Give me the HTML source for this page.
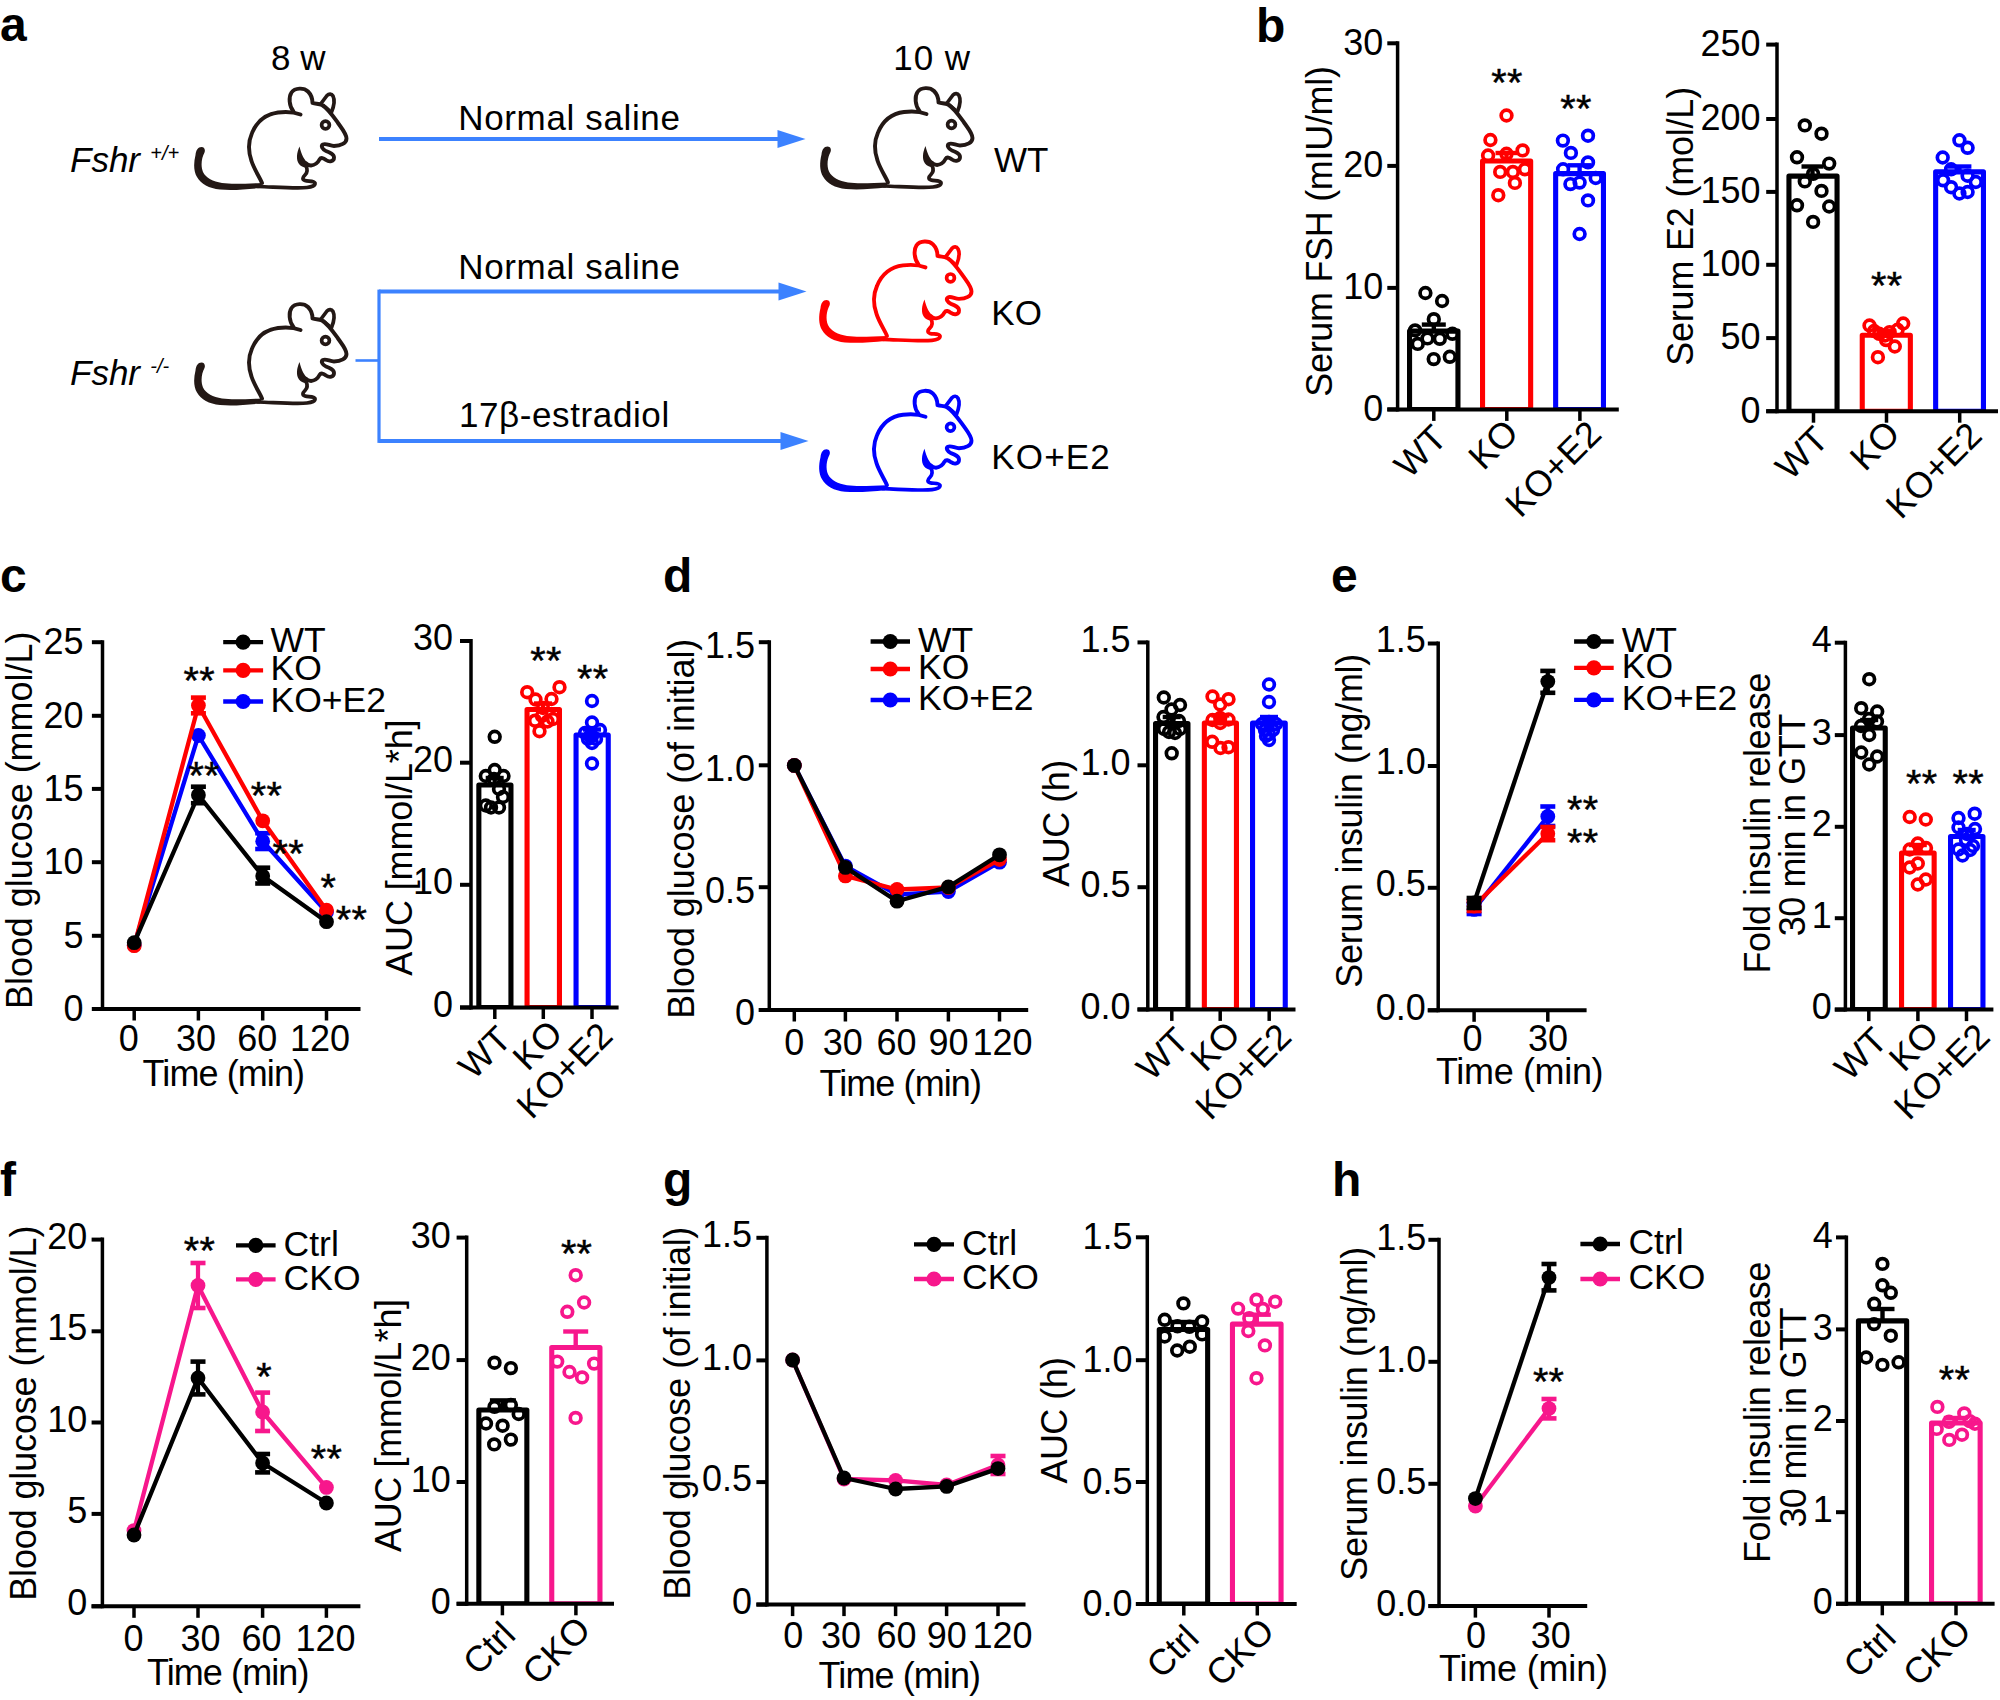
<!DOCTYPE html>
<html lang="en"><head><meta charset="utf-8"><title>Figure</title>
<style>
html,body{margin:0;padding:0;background:#fff;}
svg{display:block;font-family:"Liberation Sans",sans-serif;}
</style></head>
<body>
<svg width="2000" height="1700" viewBox="0 0 2000 1700">
<rect width="2000" height="1700" fill="#fff"/>
<path d="M1409.55,409.4 V331.15 H1457.95 V409.4" fill="none" stroke="#000" stroke-width="5.1" stroke-linejoin="round"/>
<line x1="1409.55" y1="408.2" x2="1457.95" y2="408.2" stroke="#000" stroke-width="2.6"/>
<path d="M1482.55,409.4 V160.95 H1530.65 V409.4" fill="none" stroke="#ff0000" stroke-width="5.1" stroke-linejoin="round"/>
<line x1="1482.55" y1="408.2" x2="1530.65" y2="408.2" stroke="#ff0000" stroke-width="2.6"/>
<path d="M1555.65,409.4 V173.65 H1603.45 V409.4" fill="none" stroke="#0000ff" stroke-width="5.1" stroke-linejoin="round"/>
<line x1="1555.65" y1="408.2" x2="1603.45" y2="408.2" stroke="#0000ff" stroke-width="2.6"/>
<path d="M1788.95,411.2 V176.15 H1837.05 V411.2" fill="none" stroke="#000" stroke-width="5.1" stroke-linejoin="round"/>
<line x1="1788.95" y1="410" x2="1837.05" y2="410" stroke="#000" stroke-width="2.6"/>
<path d="M1862.25,411.2 V335.25 H1910.35 V411.2" fill="none" stroke="#ff0000" stroke-width="5.1" stroke-linejoin="round"/>
<line x1="1862.25" y1="410" x2="1910.35" y2="410" stroke="#ff0000" stroke-width="2.6"/>
<path d="M1935.65,411.2 V171.85 H1983.45 V411.2" fill="none" stroke="#0000ff" stroke-width="5.1" stroke-linejoin="round"/>
<line x1="1935.65" y1="410" x2="1983.45" y2="410" stroke="#0000ff" stroke-width="2.6"/>
<path d="M478.85,1007.5 V785.05 H510.95 V1007.5" fill="none" stroke="#000" stroke-width="5.1" stroke-linejoin="round"/>
<line x1="478.85" y1="1006.3" x2="510.95" y2="1006.3" stroke="#000" stroke-width="2.6"/>
<path d="M527.05,1007.5 V709.55 H559.45 V1007.5" fill="none" stroke="#ff0000" stroke-width="5.1" stroke-linejoin="round"/>
<line x1="527.05" y1="1006.3" x2="559.45" y2="1006.3" stroke="#ff0000" stroke-width="2.6"/>
<path d="M576.05,1007.5 V735.05 H608.25 V1007.5" fill="none" stroke="#0000ff" stroke-width="5.1" stroke-linejoin="round"/>
<line x1="576.05" y1="1006.3" x2="608.25" y2="1006.3" stroke="#0000ff" stroke-width="2.6"/>
<path d="M1155.55,1009.4 V723.55 H1187.95 V1009.4" fill="none" stroke="#000" stroke-width="5.1" stroke-linejoin="round"/>
<line x1="1155.55" y1="1008.2" x2="1187.95" y2="1008.2" stroke="#000" stroke-width="2.6"/>
<path d="M1204.35,1009.4 V723.05 H1236.45 V1009.4" fill="none" stroke="#ff0000" stroke-width="5.1" stroke-linejoin="round"/>
<line x1="1204.35" y1="1008.2" x2="1236.45" y2="1008.2" stroke="#ff0000" stroke-width="2.6"/>
<path d="M1252.55,1009.4 V723.05 H1285.25 V1009.4" fill="none" stroke="#0000ff" stroke-width="5.1" stroke-linejoin="round"/>
<line x1="1252.55" y1="1008.2" x2="1285.25" y2="1008.2" stroke="#0000ff" stroke-width="2.6"/>
<path d="M1852.55,1009.6 V728.05 H1885.25 V1009.6" fill="none" stroke="#000" stroke-width="5.1" stroke-linejoin="round"/>
<line x1="1852.55" y1="1008.4" x2="1885.25" y2="1008.4" stroke="#000" stroke-width="2.6"/>
<path d="M1901.55,1009.6 V853.05 H1934.15 V1009.6" fill="none" stroke="#ff0000" stroke-width="5.1" stroke-linejoin="round"/>
<line x1="1901.55" y1="1008.4" x2="1934.15" y2="1008.4" stroke="#ff0000" stroke-width="2.6"/>
<path d="M1950.55,1009.6 V836.55 H1982.95 V1009.6" fill="none" stroke="#0000ff" stroke-width="5.1" stroke-linejoin="round"/>
<line x1="1950.55" y1="1008.4" x2="1982.95" y2="1008.4" stroke="#0000ff" stroke-width="2.6"/>
<path d="M478.85,1603.8 V1410.05 H526.85 V1603.8" fill="none" stroke="#000" stroke-width="5.1" stroke-linejoin="round"/>
<line x1="478.85" y1="1602.6" x2="526.85" y2="1602.6" stroke="#000" stroke-width="2.6"/>
<path d="M551.75,1603.8 V1347.55 H599.95 V1603.8" fill="none" stroke="#f7178c" stroke-width="5.1" stroke-linejoin="round"/>
<line x1="551.75" y1="1602.6" x2="599.95" y2="1602.6" stroke="#f7178c" stroke-width="2.6"/>
<path d="M1159.25,1604 V1329.55 H1207.65 V1604" fill="none" stroke="#000" stroke-width="5.1" stroke-linejoin="round"/>
<line x1="1159.25" y1="1602.8" x2="1207.65" y2="1602.8" stroke="#000" stroke-width="2.6"/>
<path d="M1232.45,1604 V1324.15 H1281.05 V1604" fill="none" stroke="#f7178c" stroke-width="5.1" stroke-linejoin="round"/>
<line x1="1232.45" y1="1602.8" x2="1281.05" y2="1602.8" stroke="#f7178c" stroke-width="2.6"/>
<path d="M1858.45,1603.8 V1320.85 H1906.65 V1603.8" fill="none" stroke="#000" stroke-width="5.1" stroke-linejoin="round"/>
<line x1="1858.45" y1="1602.6" x2="1906.65" y2="1602.6" stroke="#000" stroke-width="2.6"/>
<path d="M1931.55,1603.8 V1423.05 H1980.15 V1603.8" fill="none" stroke="#f7178c" stroke-width="5.1" stroke-linejoin="round"/>
<line x1="1931.55" y1="1602.6" x2="1980.15" y2="1602.6" stroke="#f7178c" stroke-width="2.6"/>
<text x="0" y="41.2" font-size="48" font-weight="bold">a</text>
<text x="1256" y="41.6" font-size="48" font-weight="bold">b</text>
<text x="0" y="591.8" font-size="48" font-weight="bold">c</text>
<text x="663" y="592" font-size="48" font-weight="bold">d</text>
<text x="1331" y="592.2" font-size="48" font-weight="bold">e</text>
<text x="0" y="1195.5" font-size="48" font-weight="bold">f</text>
<text x="663" y="1196.2" font-size="48" font-weight="bold">g</text>
<text x="1332" y="1195.5" font-size="48" font-weight="bold">h</text>
<defs><g id="mouse" transform="translate(-14,-17.5)"><path d="M21.5,77 C18,77 16,80 15.5,85 C13.5,93 13.5,101 17,107 C21,114 29,118.5 40,119.5 C52,120.5 66,119.5 80,118 L82,113 C66,113.5 52,114.5 42,113 C33,111.5 26,108 23,102 C20.5,96 21.5,88 24.5,82.5 C25.5,80 24.5,77 21.5,77 Z" stroke="none"/><path d="M82,113 C80,108 74,99 71.5,91 C68,81 68,72 72,63 C77,51 86,44 98,42.5 C106,41.5 114,42 120.5,44.5" fill="none" stroke-width="3.9" stroke-linecap="round" stroke-linejoin="round"/><path d="M113.5,41.5 C109,36 108.5,27 111.5,22.5 C115,17.5 124,17.5 128,21.5 C131,24.5 132.5,29 132.5,33 C136,34 139,33.5 142,35 C148,38.5 153,46 158,53 C163,60 166.5,64 166.5,68.5 C166.5,73 161,76 154,76 C150,76 146,73 143,74.5 C140.5,76 142.5,79.5 146,81 C150,82.5 154,84 154,87.5 C154,91.5 149.5,92.5 146,90 C143.5,88 141,87 139.5,89.5 C138,92.5 136,95 131,95.5 C128,95.5 126.5,94 125.5,93" fill="none" stroke-width="3.9" stroke-linecap="round" stroke-linejoin="round"/><path d="M141,33.5 L147,25.5 C149,23.5 151.5,23.5 153,26 C155,30 154,36 151.5,42" fill="none" stroke-width="3.7" stroke-linecap="round" stroke-linejoin="round"/><path d="M143,34.5 L150,40.5" fill="none" stroke-width="2.6"/><path d="M119.5,76.5 C116.5,83 116,90 119,94 C121,96.5 124,98 127,97.5 L128,93.5 C124.5,90 121.5,85 119.5,76.5 Z" stroke="none"/><path d="M126,96 C128,100 127.5,102.5 125,105 C122.5,107.5 122,109.5 125,110.5 C128,111.5 134,110.5 135,113 C135.5,115.5 132,117 127,117.5 C115,118.5 95,117 78,116.5" fill="none" stroke-width="3.7" stroke-linecap="round" stroke-linejoin="round"/><circle cx="145.5" cy="55" r="3.9" fill="none" stroke-width="3.7"/></g></defs>
<text x="271" y="70" font-size="35">8 w</text>
<text x="893.2" y="70" font-size="35" textLength="76.9" lengthAdjust="spacing">10 w</text>
<use href="#mouse" x="194" y="87.5" fill="#231815" stroke="#231815"/>
<use href="#mouse" x="194" y="303" fill="#231815" stroke="#231815"/>
<use href="#mouse" x="820" y="87" fill="#231815" stroke="#231815"/>
<use href="#mouse" x="819" y="240.4" fill="#ff0000" stroke="#ff0000"/>
<use href="#mouse" x="819" y="389.7" fill="#0000ff" stroke="#0000ff"/>
<text x="70" y="172" font-size="35" font-style="italic">Fshr</text>
<text x="150.3" y="160.4" font-size="20" font-style="italic">+/+</text>
<text x="70" y="385" font-size="35" font-style="italic">Fshr</text>
<text x="150.3" y="373.4" font-size="20" font-style="italic">-/-</text>
<text x="458.3" y="129.5" font-size="35" textLength="221.6" lengthAdjust="spacing">Normal saline</text>
<text x="458.3" y="279.3" font-size="35" textLength="221.6" lengthAdjust="spacing">Normal saline</text>
<text x="458.9" y="427" font-size="35" textLength="210.3" lengthAdjust="spacing">17β-estradiol</text>
<text x="994" y="172.3" font-size="35">WT</text>
<text x="991.3" y="325.4" font-size="35">KO</text>
<text x="991.3" y="469.4" font-size="35" textLength="118.5" lengthAdjust="spacing">KO+E2</text>
<line x1="379" y1="139" x2="785.5" y2="139" stroke="#3c82ff" stroke-width="3.8"/>
<polygon points="805.5,139 777.5,130 777.5,148" fill="#3c82ff"/>
<line x1="379" y1="291.5" x2="786.5" y2="291.5" stroke="#3c82ff" stroke-width="3.8"/>
<polygon points="806.5,291.5 778.5,282.5 778.5,300.5" fill="#3c82ff"/>
<line x1="379" y1="441" x2="788.5" y2="441" stroke="#3c82ff" stroke-width="3.8"/>
<polygon points="808.5,441 780.5,432 780.5,450" fill="#3c82ff"/>
<line x1="379" y1="289.6" x2="379" y2="442.9" stroke="#3c82ff" stroke-width="3.2"/>
<line x1="355.5" y1="360.5" x2="379" y2="360.5" stroke="#3c82ff" stroke-width="2.6"/>
<line x1="1397.6" y1="41.3" x2="1397.6" y2="411.4" stroke="#000" stroke-width="3.5"/>
<line x1="1387.3" y1="409.4" x2="1618.8" y2="409.4" stroke="#000" stroke-width="4"/>
<line x1="1387.3" y1="43.3" x2="1397.6" y2="43.3" stroke="#000" stroke-width="4"/>
<text x="1383.3" y="54.89" font-size="36" text-anchor="end">30</text>
<line x1="1387.3" y1="165.9" x2="1397.6" y2="165.9" stroke="#000" stroke-width="4"/>
<text x="1383.3" y="177.49" font-size="36" text-anchor="end">20</text>
<line x1="1387.3" y1="287.9" x2="1397.6" y2="287.9" stroke="#000" stroke-width="4"/>
<text x="1383.3" y="299.49" font-size="36" text-anchor="end">10</text>
<line x1="1387.3" y1="409.4" x2="1397.6" y2="409.4" stroke="#000" stroke-width="4"/>
<text x="1383.3" y="420.99" font-size="36" text-anchor="end">0</text>
<line x1="1433.8" y1="409.4" x2="1433.8" y2="420.9" stroke="#000" stroke-width="3.5"/>
<line x1="1506.8" y1="409.4" x2="1506.8" y2="420.9" stroke="#000" stroke-width="3.5"/>
<line x1="1579.9" y1="409.4" x2="1579.9" y2="420.9" stroke="#000" stroke-width="3.5"/>
<text x="1332" y="231.4" font-size="36" text-anchor="middle" transform="rotate(-90 1332 231.4)" textLength="330.7" lengthAdjust="spacing">Serum FSH (mIU/ml)</text>
<line x1="1433.8" y1="324.6" x2="1433.8" y2="331" stroke="#000" stroke-width="4.4"/>
<line x1="1421.8" y1="324.6" x2="1445.8" y2="324.6" stroke="#000" stroke-width="4.4"/>
<line x1="1506.5" y1="153" x2="1506.5" y2="161" stroke="#ff0000" stroke-width="4.4"/>
<line x1="1495.5" y1="153" x2="1517.5" y2="153" stroke="#ff0000" stroke-width="4.4"/>
<line x1="1579.6" y1="165.3" x2="1579.6" y2="173.5" stroke="#0000ff" stroke-width="4.4"/>
<line x1="1567.6" y1="165.3" x2="1591.6" y2="165.3" stroke="#0000ff" stroke-width="4.4"/>
<circle cx="1425.4" cy="293" r="5.35" fill="none" stroke="#000" stroke-width="3.7"/>
<circle cx="1442.1" cy="301" r="5.35" fill="none" stroke="#000" stroke-width="3.7"/>
<circle cx="1433.8" cy="319.2" r="5.35" fill="none" stroke="#000" stroke-width="3.7"/>
<circle cx="1415.1" cy="330.4" r="5.35" fill="none" stroke="#000" stroke-width="3.7"/>
<circle cx="1452.4" cy="333.8" r="5.35" fill="none" stroke="#000" stroke-width="3.7"/>
<circle cx="1427.5" cy="338.4" r="5.35" fill="none" stroke="#000" stroke-width="3.7"/>
<circle cx="1439.8" cy="338.8" r="5.35" fill="none" stroke="#000" stroke-width="3.7"/>
<circle cx="1417.7" cy="343.9" r="5.35" fill="none" stroke="#000" stroke-width="3.7"/>
<circle cx="1433.7" cy="359.1" r="5.35" fill="none" stroke="#000" stroke-width="3.7"/>
<circle cx="1449.8" cy="356.8" r="5.35" fill="none" stroke="#000" stroke-width="3.7"/>
<circle cx="1506.5" cy="115.5" r="5.35" fill="none" stroke="#ff0000" stroke-width="3.7"/>
<circle cx="1490.4" cy="140" r="5.35" fill="none" stroke="#ff0000" stroke-width="3.7"/>
<circle cx="1522.6" cy="150.4" r="5.35" fill="none" stroke="#ff0000" stroke-width="3.7"/>
<circle cx="1506.5" cy="153.8" r="5.35" fill="none" stroke="#ff0000" stroke-width="3.7"/>
<circle cx="1488.1" cy="155.5" r="5.35" fill="none" stroke="#ff0000" stroke-width="3.7"/>
<circle cx="1500.2" cy="171.9" r="5.35" fill="none" stroke="#ff0000" stroke-width="3.7"/>
<circle cx="1512.9" cy="171.9" r="5.35" fill="none" stroke="#ff0000" stroke-width="3.7"/>
<circle cx="1524.9" cy="169.3" r="5.35" fill="none" stroke="#ff0000" stroke-width="3.7"/>
<circle cx="1514.9" cy="182.9" r="5.35" fill="none" stroke="#ff0000" stroke-width="3.7"/>
<circle cx="1498.3" cy="195.2" r="5.35" fill="none" stroke="#ff0000" stroke-width="3.7"/>
<circle cx="1588" cy="135.7" r="5.35" fill="none" stroke="#0000ff" stroke-width="3.7"/>
<circle cx="1562.9" cy="140.6" r="5.35" fill="none" stroke="#0000ff" stroke-width="3.7"/>
<circle cx="1570.9" cy="152.9" r="5.35" fill="none" stroke="#0000ff" stroke-width="3.7"/>
<circle cx="1588" cy="162.4" r="5.35" fill="none" stroke="#0000ff" stroke-width="3.7"/>
<circle cx="1563.1" cy="169.3" r="5.35" fill="none" stroke="#0000ff" stroke-width="3.7"/>
<circle cx="1595.7" cy="178" r="5.35" fill="none" stroke="#0000ff" stroke-width="3.7"/>
<circle cx="1570.4" cy="184.1" r="5.35" fill="none" stroke="#0000ff" stroke-width="3.7"/>
<circle cx="1579.6" cy="182.6" r="5.35" fill="none" stroke="#0000ff" stroke-width="3.7"/>
<circle cx="1588" cy="200.4" r="5.35" fill="none" stroke="#0000ff" stroke-width="3.7"/>
<circle cx="1579.6" cy="234" r="5.35" fill="none" stroke="#0000ff" stroke-width="3.7"/>
<text x="1448.9" y="440.1" font-size="36" text-anchor="end" transform="rotate(-45 1448.9 440.1)">WT</text>
<text x="1520.2" y="434.6" font-size="36" text-anchor="end" transform="rotate(-45 1520.2 434.6)">KO</text>
<text x="1603.3" y="436.2" font-size="36" text-anchor="end" transform="rotate(-45 1603.3 436.2)">KO+E2</text>
<text x="1507" y="95.72" font-size="39.5" text-anchor="middle" stroke="#000" stroke-width="0.5" letter-spacing="0.3">**</text>
<text x="1576" y="122.22" font-size="39.5" text-anchor="middle" stroke="#000" stroke-width="0.5" letter-spacing="0.3">**</text>
<line x1="1777" y1="42.6" x2="1777" y2="413.2" stroke="#000" stroke-width="3.5"/>
<line x1="1766.2" y1="411.2" x2="1998" y2="411.2" stroke="#000" stroke-width="4"/>
<line x1="1766.2" y1="44.6" x2="1777" y2="44.6" stroke="#000" stroke-width="4"/>
<text x="1760.5" y="55.99" font-size="36" text-anchor="end">250</text>
<line x1="1766.2" y1="119" x2="1777" y2="119" stroke="#000" stroke-width="4"/>
<text x="1760.5" y="130.39" font-size="36" text-anchor="end">200</text>
<line x1="1766.2" y1="191.9" x2="1777" y2="191.9" stroke="#000" stroke-width="4"/>
<text x="1760.5" y="203.29" font-size="36" text-anchor="end">150</text>
<line x1="1766.2" y1="264.8" x2="1777" y2="264.8" stroke="#000" stroke-width="4"/>
<text x="1760.5" y="276.19" font-size="36" text-anchor="end">100</text>
<line x1="1766.2" y1="338.1" x2="1777" y2="338.1" stroke="#000" stroke-width="4"/>
<text x="1760.5" y="349.49" font-size="36" text-anchor="end">50</text>
<line x1="1766.2" y1="411.2" x2="1777" y2="411.2" stroke="#000" stroke-width="4"/>
<text x="1760.5" y="422.59" font-size="36" text-anchor="end">0</text>
<line x1="1813.5" y1="411.2" x2="1813.5" y2="422.7" stroke="#000" stroke-width="3.5"/>
<line x1="1886.5" y1="411.2" x2="1886.5" y2="422.7" stroke="#000" stroke-width="3.5"/>
<line x1="1959.7" y1="411.2" x2="1959.7" y2="422.7" stroke="#000" stroke-width="3.5"/>
<text x="1693.5" y="226.3" font-size="36" text-anchor="middle" transform="rotate(-90 1693.5 226.3)" textLength="279" lengthAdjust="spacing">Serum E2 (mol/L)</text>
<line x1="1812.5" y1="166.5" x2="1812.5" y2="176" stroke="#000" stroke-width="4.4"/>
<line x1="1801.5" y1="166.5" x2="1823.5" y2="166.5" stroke="#000" stroke-width="4.4"/>
<line x1="1886.3" y1="331" x2="1886.3" y2="335" stroke="#ff0000" stroke-width="4.4"/>
<line x1="1876.3" y1="331" x2="1896.3" y2="331" stroke="#ff0000" stroke-width="4.4"/>
<line x1="1959.4" y1="166.5" x2="1959.4" y2="172" stroke="#0000ff" stroke-width="4.4"/>
<line x1="1947.4" y1="166.5" x2="1971.4" y2="166.5" stroke="#0000ff" stroke-width="4.4"/>
<circle cx="1804.8" cy="125.4" r="5.35" fill="none" stroke="#000" stroke-width="3.7"/>
<circle cx="1821.5" cy="133.7" r="5.35" fill="none" stroke="#000" stroke-width="3.7"/>
<circle cx="1797" cy="157.3" r="5.35" fill="none" stroke="#000" stroke-width="3.7"/>
<circle cx="1829.2" cy="163.6" r="5.35" fill="none" stroke="#000" stroke-width="3.7"/>
<circle cx="1813.1" cy="173.9" r="5.35" fill="none" stroke="#000" stroke-width="3.7"/>
<circle cx="1804.8" cy="181.4" r="5.35" fill="none" stroke="#000" stroke-width="3.7"/>
<circle cx="1821.5" cy="190.9" r="5.35" fill="none" stroke="#000" stroke-width="3.7"/>
<circle cx="1797" cy="205.3" r="5.35" fill="none" stroke="#000" stroke-width="3.7"/>
<circle cx="1829.2" cy="206.5" r="5.35" fill="none" stroke="#000" stroke-width="3.7"/>
<circle cx="1813.1" cy="221.9" r="5.35" fill="none" stroke="#000" stroke-width="3.7"/>
<circle cx="1869.5" cy="325.5" r="5.35" fill="none" stroke="#ff0000" stroke-width="3.7"/>
<circle cx="1903.2" cy="323.5" r="5.35" fill="none" stroke="#ff0000" stroke-width="3.7"/>
<circle cx="1874.1" cy="331" r="5.35" fill="none" stroke="#ff0000" stroke-width="3.7"/>
<circle cx="1897.6" cy="329.8" r="5.35" fill="none" stroke="#ff0000" stroke-width="3.7"/>
<circle cx="1879.2" cy="333.8" r="5.35" fill="none" stroke="#ff0000" stroke-width="3.7"/>
<circle cx="1889.6" cy="332.1" r="5.35" fill="none" stroke="#ff0000" stroke-width="3.7"/>
<circle cx="1885" cy="335.5" r="5.35" fill="none" stroke="#ff0000" stroke-width="3.7"/>
<circle cx="1886.1" cy="340.1" r="5.35" fill="none" stroke="#ff0000" stroke-width="3.7"/>
<circle cx="1894.8" cy="346.5" r="5.35" fill="none" stroke="#ff0000" stroke-width="3.7"/>
<circle cx="1877.9" cy="357.2" r="5.35" fill="none" stroke="#ff0000" stroke-width="3.7"/>
<circle cx="1959.4" cy="140.3" r="5.35" fill="none" stroke="#0000ff" stroke-width="3.7"/>
<circle cx="1967.6" cy="147.8" r="5.35" fill="none" stroke="#0000ff" stroke-width="3.7"/>
<circle cx="1942.7" cy="157.5" r="5.35" fill="none" stroke="#0000ff" stroke-width="3.7"/>
<circle cx="1951.1" cy="169.3" r="5.35" fill="none" stroke="#0000ff" stroke-width="3.7"/>
<circle cx="1943.1" cy="180.3" r="5.35" fill="none" stroke="#0000ff" stroke-width="3.7"/>
<circle cx="1975.8" cy="182" r="5.35" fill="none" stroke="#0000ff" stroke-width="3.7"/>
<circle cx="1967.6" cy="175.7" r="5.35" fill="none" stroke="#0000ff" stroke-width="3.7"/>
<circle cx="1951.1" cy="187.2" r="5.35" fill="none" stroke="#0000ff" stroke-width="3.7"/>
<circle cx="1959.4" cy="193.5" r="5.35" fill="none" stroke="#0000ff" stroke-width="3.7"/>
<circle cx="1967.6" cy="192" r="5.35" fill="none" stroke="#0000ff" stroke-width="3.7"/>
<text x="1830.2" y="441.8" font-size="36" text-anchor="end" transform="rotate(-45 1830.2 441.8)">WT</text>
<text x="1901.7" y="435.8" font-size="36" text-anchor="end" transform="rotate(-45 1901.7 435.8)">KO</text>
<text x="1983.8" y="437.6" font-size="36" text-anchor="end" transform="rotate(-45 1983.8 437.6)">KO+E2</text>
<text x="1886.7" y="299.22" font-size="39.5" text-anchor="middle" stroke="#000" stroke-width="0.5" letter-spacing="0.3">**</text>
<line x1="102.5" y1="640.2" x2="102.5" y2="1011" stroke="#000" stroke-width="3.5"/>
<line x1="91.9" y1="1009" x2="360.5" y2="1009" stroke="#000" stroke-width="4"/>
<line x1="91.9" y1="642.2" x2="102.5" y2="642.2" stroke="#000" stroke-width="4"/>
<text x="83.6" y="654.09" font-size="36" text-anchor="end">25</text>
<line x1="91.9" y1="715.8" x2="102.5" y2="715.8" stroke="#000" stroke-width="4"/>
<text x="83.6" y="727.69" font-size="36" text-anchor="end">20</text>
<line x1="91.9" y1="788.9" x2="102.5" y2="788.9" stroke="#000" stroke-width="4"/>
<text x="83.6" y="800.79" font-size="36" text-anchor="end">15</text>
<line x1="91.9" y1="862.2" x2="102.5" y2="862.2" stroke="#000" stroke-width="4"/>
<text x="83.6" y="874.09" font-size="36" text-anchor="end">10</text>
<line x1="91.9" y1="935.8" x2="102.5" y2="935.8" stroke="#000" stroke-width="4"/>
<text x="83.6" y="947.69" font-size="36" text-anchor="end">5</text>
<line x1="91.9" y1="1009" x2="102.5" y2="1009" stroke="#000" stroke-width="4"/>
<text x="83.6" y="1020.89" font-size="36" text-anchor="end">0</text>
<line x1="134.2" y1="1009" x2="134.2" y2="1020.5" stroke="#000" stroke-width="3.5"/>
<line x1="198.4" y1="1009" x2="198.4" y2="1020.5" stroke="#000" stroke-width="3.5"/>
<line x1="262.7" y1="1009" x2="262.7" y2="1020.5" stroke="#000" stroke-width="3.5"/>
<line x1="326.5" y1="1009" x2="326.5" y2="1020.5" stroke="#000" stroke-width="3.5"/>
<text x="32.5" y="820.3" font-size="36" text-anchor="middle" transform="rotate(-90 32.5 820.3)" textLength="377.5" lengthAdjust="spacing">Blood glucose (mmol/L)</text>
<text x="128.7" y="1051.3" font-size="36" text-anchor="middle">0</text>
<text x="195.9" y="1051.3" font-size="36" text-anchor="middle">30</text>
<text x="257.2" y="1051.3" font-size="36" text-anchor="middle">60</text>
<text x="320" y="1051.3" font-size="36" text-anchor="middle">120</text>
<text x="223.8" y="1086" font-size="36" text-anchor="middle" textLength="162.5" lengthAdjust="spacing">Time (min)</text>
<line x1="262.7" y1="833.2" x2="262.7" y2="849" stroke="#0000ff" stroke-width="4.23"/>
<line x1="255.2" y1="833.2" x2="270.2" y2="833.2" stroke="#0000ff" stroke-width="4.6"/>
<line x1="255.2" y1="849" x2="270.2" y2="849" stroke="#0000ff" stroke-width="4.6"/>
<polyline points="134.2,945 198.4,735.5 262.7,841.2 326.5,912" fill="none" stroke="#0000ff" stroke-width="4.3" stroke-linejoin="round"/>
<circle cx="134.2" cy="945" r="7.4" fill="#0000ff"/>
<circle cx="198.4" cy="735.5" r="7.4" fill="#0000ff"/>
<circle cx="262.7" cy="841.2" r="7.4" fill="#0000ff"/>
<circle cx="326.5" cy="912" r="7.4" fill="#0000ff"/>
<line x1="198.4" y1="697.6" x2="198.4" y2="713.3" stroke="#ff0000" stroke-width="4.23"/>
<line x1="190.9" y1="697.6" x2="205.9" y2="697.6" stroke="#ff0000" stroke-width="4.6"/>
<line x1="190.9" y1="713.3" x2="205.9" y2="713.3" stroke="#ff0000" stroke-width="4.6"/>
<polyline points="134.2,945.7 198.4,705.5 262.7,820.8 326.5,910.2" fill="none" stroke="#ff0000" stroke-width="4.3" stroke-linejoin="round"/>
<circle cx="134.2" cy="945.7" r="7.4" fill="#ff0000"/>
<circle cx="198.4" cy="705.5" r="7.4" fill="#ff0000"/>
<circle cx="262.7" cy="820.8" r="7.4" fill="#ff0000"/>
<circle cx="326.5" cy="910.2" r="7.4" fill="#ff0000"/>
<line x1="198.4" y1="786.7" x2="198.4" y2="803.2" stroke="#000" stroke-width="4.23"/>
<line x1="190.9" y1="786.7" x2="205.9" y2="786.7" stroke="#000" stroke-width="4.6"/>
<line x1="190.9" y1="803.2" x2="205.9" y2="803.2" stroke="#000" stroke-width="4.6"/>
<line x1="262.7" y1="867.7" x2="262.7" y2="883.5" stroke="#000" stroke-width="4.23"/>
<line x1="255.2" y1="867.7" x2="270.2" y2="867.7" stroke="#000" stroke-width="4.6"/>
<line x1="255.2" y1="883.5" x2="270.2" y2="883.5" stroke="#000" stroke-width="4.6"/>
<polyline points="134.2,942.7 198.4,795 262.7,876 326.5,921.7" fill="none" stroke="#000" stroke-width="4.3" stroke-linejoin="round"/>
<circle cx="134.2" cy="942.7" r="7.4" fill="#000"/>
<circle cx="198.4" cy="795" r="7.4" fill="#000"/>
<circle cx="262.7" cy="876" r="7.4" fill="#000"/>
<circle cx="326.5" cy="921.7" r="7.4" fill="#000"/>
<line x1="223.2" y1="642.2" x2="263.1" y2="642.2" stroke="#000" stroke-width="4.3"/>
<circle cx="243.15" cy="642.2" r="7.6" fill="#000"/>
<text x="270.5" y="652.3" font-size="35.5">WT</text>
<line x1="223.2" y1="670.3" x2="263.1" y2="670.3" stroke="#ff0000" stroke-width="4.3"/>
<circle cx="243.15" cy="670.3" r="7.6" fill="#ff0000"/>
<text x="270.5" y="680.4" font-size="35.5">KO</text>
<line x1="223.2" y1="701.5" x2="263.1" y2="701.5" stroke="#0000ff" stroke-width="4.3"/>
<circle cx="243.15" cy="701.5" r="7.6" fill="#0000ff"/>
<text x="270.5" y="711.6" font-size="35.5">KO+E2</text>
<text x="199.2" y="693.62" font-size="39.5" text-anchor="middle" stroke="#000" stroke-width="0.5" letter-spacing="0.3">**</text>
<text x="204.1" y="789.02" font-size="39.5" text-anchor="middle" stroke="#000" stroke-width="0.5" letter-spacing="0.3">**</text>
<text x="266.5" y="809.22" font-size="39.5" text-anchor="middle" stroke="#000" stroke-width="0.5" letter-spacing="0.3">**</text>
<text x="288.2" y="867.22" font-size="39.5" text-anchor="middle" stroke="#000" stroke-width="0.5" letter-spacing="0.3">**</text>
<text x="328.3" y="901.42" font-size="39.5" text-anchor="middle" stroke="#000" stroke-width="0.5" letter-spacing="0.3">*</text>
<text x="351.5" y="932.52" font-size="39.5" text-anchor="middle" stroke="#000" stroke-width="0.5" letter-spacing="0.3">**</text>
<line x1="471" y1="639" x2="471" y2="1009.5" stroke="#000" stroke-width="3.5"/>
<line x1="460" y1="1007.5" x2="618.6" y2="1007.5" stroke="#000" stroke-width="4"/>
<line x1="460" y1="641" x2="471" y2="641" stroke="#000" stroke-width="4"/>
<text x="453.1" y="650.29" font-size="36" text-anchor="end">30</text>
<line x1="460" y1="762.7" x2="471" y2="762.7" stroke="#000" stroke-width="4"/>
<text x="453.1" y="771.99" font-size="36" text-anchor="end">20</text>
<line x1="460" y1="884.8" x2="471" y2="884.8" stroke="#000" stroke-width="4"/>
<text x="453.1" y="894.09" font-size="36" text-anchor="end">10</text>
<line x1="460" y1="1007.5" x2="471" y2="1007.5" stroke="#000" stroke-width="4"/>
<text x="453.1" y="1016.79" font-size="36" text-anchor="end">0</text>
<line x1="494.8" y1="1007.5" x2="494.8" y2="1019" stroke="#000" stroke-width="3.5"/>
<line x1="543.3" y1="1007.5" x2="543.3" y2="1019" stroke="#000" stroke-width="3.5"/>
<line x1="592" y1="1007.5" x2="592" y2="1019" stroke="#000" stroke-width="3.5"/>
<text x="411.9" y="847.6" font-size="36" text-anchor="middle" transform="rotate(-90 411.9 847.6)" textLength="256.3" lengthAdjust="spacing">AUC [mmol/L*h]</text>
<line x1="494.7" y1="778" x2="494.7" y2="785" stroke="#000" stroke-width="4.4"/>
<line x1="485.7" y1="778" x2="503.7" y2="778" stroke="#000" stroke-width="4.4"/>
<line x1="543" y1="703.5" x2="543" y2="709.5" stroke="#ff0000" stroke-width="4.4"/>
<line x1="534" y1="703.5" x2="552" y2="703.5" stroke="#ff0000" stroke-width="4.4"/>
<line x1="592" y1="729.5" x2="592" y2="735" stroke="#0000ff" stroke-width="4.4"/>
<line x1="583" y1="729.5" x2="601" y2="729.5" stroke="#0000ff" stroke-width="4.4"/>
<circle cx="494.7" cy="736.8" r="5.35" fill="none" stroke="#000" stroke-width="3.7"/>
<circle cx="494.7" cy="770" r="5.35" fill="none" stroke="#000" stroke-width="3.7"/>
<circle cx="485.8" cy="776" r="5.35" fill="none" stroke="#000" stroke-width="3.7"/>
<circle cx="503.5" cy="776" r="5.35" fill="none" stroke="#000" stroke-width="3.7"/>
<circle cx="494" cy="779" r="5.35" fill="none" stroke="#000" stroke-width="3.7"/>
<circle cx="499" cy="789" r="5.35" fill="none" stroke="#000" stroke-width="3.7"/>
<circle cx="503" cy="797" r="5.35" fill="none" stroke="#000" stroke-width="3.7"/>
<circle cx="485.8" cy="805.5" r="5.35" fill="none" stroke="#000" stroke-width="3.7"/>
<circle cx="491" cy="807.5" r="5.35" fill="none" stroke="#000" stroke-width="3.7"/>
<circle cx="499" cy="807.5" r="5.35" fill="none" stroke="#000" stroke-width="3.7"/>
<circle cx="527.2" cy="692.2" r="5.35" fill="none" stroke="#ff0000" stroke-width="3.7"/>
<circle cx="559.5" cy="687.2" r="5.35" fill="none" stroke="#ff0000" stroke-width="3.7"/>
<circle cx="535.5" cy="699.5" r="5.35" fill="none" stroke="#ff0000" stroke-width="3.7"/>
<circle cx="551.5" cy="699" r="5.35" fill="none" stroke="#ff0000" stroke-width="3.7"/>
<circle cx="535" cy="720.7" r="5.35" fill="none" stroke="#ff0000" stroke-width="3.7"/>
<circle cx="547.5" cy="721.5" r="5.35" fill="none" stroke="#ff0000" stroke-width="3.7"/>
<circle cx="553" cy="719" r="5.35" fill="none" stroke="#ff0000" stroke-width="3.7"/>
<circle cx="539.5" cy="731.2" r="5.35" fill="none" stroke="#ff0000" stroke-width="3.7"/>
<circle cx="543" cy="708" r="5.35" fill="none" stroke="#ff0000" stroke-width="3.7"/>
<circle cx="542" cy="716" r="5.35" fill="none" stroke="#ff0000" stroke-width="3.7"/>
<circle cx="592" cy="701" r="5.35" fill="none" stroke="#0000ff" stroke-width="3.7"/>
<circle cx="592" cy="722.5" r="5.35" fill="none" stroke="#0000ff" stroke-width="3.7"/>
<circle cx="585" cy="733" r="5.35" fill="none" stroke="#0000ff" stroke-width="3.7"/>
<circle cx="600" cy="730" r="5.35" fill="none" stroke="#0000ff" stroke-width="3.7"/>
<circle cx="592" cy="736" r="5.35" fill="none" stroke="#0000ff" stroke-width="3.7"/>
<circle cx="588" cy="739" r="5.35" fill="none" stroke="#0000ff" stroke-width="3.7"/>
<circle cx="596" cy="739" r="5.35" fill="none" stroke="#0000ff" stroke-width="3.7"/>
<circle cx="592" cy="743" r="5.35" fill="none" stroke="#0000ff" stroke-width="3.7"/>
<circle cx="592" cy="763.5" r="5.35" fill="none" stroke="#0000ff" stroke-width="3.7"/>
<circle cx="590" cy="736" r="5.35" fill="none" stroke="#0000ff" stroke-width="3.7"/>
<text x="513.2" y="1041.4" font-size="36" text-anchor="end" transform="rotate(-45 513.2 1041.4)">WT</text>
<text x="564.6" y="1035.4" font-size="36" text-anchor="end" transform="rotate(-45 564.6 1035.4)">KO</text>
<text x="614.6" y="1037.8" font-size="36" text-anchor="end" transform="rotate(-45 614.6 1037.8)">KO+E2</text>
<text x="546" y="674.22" font-size="39.5" text-anchor="middle" stroke="#000" stroke-width="0.5" letter-spacing="0.3">**</text>
<text x="592.7" y="691.72" font-size="39.5" text-anchor="middle" stroke="#000" stroke-width="0.5" letter-spacing="0.3">**</text>
<line x1="769.3" y1="640.2" x2="769.3" y2="1012" stroke="#000" stroke-width="3.5"/>
<line x1="758.8" y1="1010" x2="1028.2" y2="1010" stroke="#000" stroke-width="4"/>
<line x1="758.8" y1="642.2" x2="769.3" y2="642.2" stroke="#000" stroke-width="4"/>
<text x="755.1" y="658.09" font-size="36" text-anchor="end">1.5</text>
<line x1="758.8" y1="765.3" x2="769.3" y2="765.3" stroke="#000" stroke-width="4"/>
<text x="755.1" y="781.19" font-size="36" text-anchor="end">1.0</text>
<line x1="758.8" y1="887.2" x2="769.3" y2="887.2" stroke="#000" stroke-width="4"/>
<text x="755.1" y="903.09" font-size="36" text-anchor="end">0.5</text>
<line x1="758.8" y1="1010" x2="769.3" y2="1010" stroke="#000" stroke-width="4"/>
<text x="755.1" y="1024.89" font-size="36" text-anchor="end">0</text>
<line x1="794.3" y1="1010" x2="794.3" y2="1021.5" stroke="#000" stroke-width="3.5"/>
<line x1="845.4" y1="1010" x2="845.4" y2="1021.5" stroke="#000" stroke-width="3.5"/>
<line x1="897" y1="1010" x2="897" y2="1021.5" stroke="#000" stroke-width="3.5"/>
<line x1="948.4" y1="1010" x2="948.4" y2="1021.5" stroke="#000" stroke-width="3.5"/>
<line x1="999.5" y1="1010" x2="999.5" y2="1021.5" stroke="#000" stroke-width="3.5"/>
<text x="693.6" y="828.7" font-size="36" text-anchor="middle" transform="rotate(-90 693.6 828.7)" textLength="380" lengthAdjust="spacing">Blood glucose (of initial)</text>
<text x="794.2" y="1055" font-size="36" text-anchor="middle">0</text>
<text x="842.8" y="1055" font-size="36" text-anchor="middle">30</text>
<text x="896.5" y="1055" font-size="36" text-anchor="middle">60</text>
<text x="948.4" y="1055" font-size="36" text-anchor="middle">90</text>
<text x="1002.5" y="1055" font-size="36" text-anchor="middle">120</text>
<text x="900.7" y="1095.6" font-size="36" text-anchor="middle" textLength="162.5" lengthAdjust="spacing">Time (min)</text>
<polyline points="794.3,765.4 845.4,866.1 897,894.7 948.4,891.5 999.5,862.2" fill="none" stroke="#0000ff" stroke-width="4.3" stroke-linejoin="round"/>
<circle cx="794.3" cy="765.4" r="7.4" fill="#0000ff"/>
<circle cx="845.4" cy="866.1" r="7.4" fill="#0000ff"/>
<circle cx="897" cy="894.7" r="7.4" fill="#0000ff"/>
<circle cx="948.4" cy="891.5" r="7.4" fill="#0000ff"/>
<circle cx="999.5" cy="862.2" r="7.4" fill="#0000ff"/>
<polyline points="794.3,765.4 845.4,875.9 897,889.5 948.4,887.5 999.5,859.6" fill="none" stroke="#ff0000" stroke-width="4.3" stroke-linejoin="round"/>
<circle cx="794.3" cy="765.4" r="7.4" fill="#ff0000"/>
<circle cx="845.4" cy="875.9" r="7.4" fill="#ff0000"/>
<circle cx="897" cy="889.5" r="7.4" fill="#ff0000"/>
<circle cx="948.4" cy="887.5" r="7.4" fill="#ff0000"/>
<circle cx="999.5" cy="859.6" r="7.4" fill="#ff0000"/>
<polyline points="794.3,765.4 845.4,867.4 897,901.2 948.4,886.9 999.5,854.8" fill="none" stroke="#000" stroke-width="4.3" stroke-linejoin="round"/>
<circle cx="794.3" cy="765.4" r="7.4" fill="#000"/>
<circle cx="845.4" cy="867.4" r="7.4" fill="#000"/>
<circle cx="897" cy="901.2" r="7.4" fill="#000"/>
<circle cx="948.4" cy="886.9" r="7.4" fill="#000"/>
<circle cx="999.5" cy="854.8" r="7.4" fill="#000"/>
<line x1="870.6" y1="641.5" x2="910" y2="641.5" stroke="#000" stroke-width="4.3"/>
<circle cx="890.3" cy="641.5" r="7.6" fill="#000"/>
<text x="918" y="651.6" font-size="35.5">WT</text>
<line x1="870.6" y1="669" x2="910" y2="669" stroke="#ff0000" stroke-width="4.3"/>
<circle cx="890.3" cy="669" r="7.6" fill="#ff0000"/>
<text x="918" y="679.1" font-size="35.5">KO</text>
<line x1="870.6" y1="700" x2="910" y2="700" stroke="#0000ff" stroke-width="4.3"/>
<circle cx="890.3" cy="700" r="7.6" fill="#0000ff"/>
<text x="918" y="710.1" font-size="35.5">KO+E2</text>
<line x1="1147.8" y1="640.4" x2="1147.8" y2="1011.4" stroke="#000" stroke-width="3.5"/>
<line x1="1137.5" y1="1009.4" x2="1295.5" y2="1009.4" stroke="#000" stroke-width="4"/>
<line x1="1137.5" y1="642.4" x2="1147.8" y2="642.4" stroke="#000" stroke-width="4"/>
<text x="1130.5" y="652.49" font-size="36" text-anchor="end">1.5</text>
<line x1="1137.5" y1="765.3" x2="1147.8" y2="765.3" stroke="#000" stroke-width="4"/>
<text x="1130.5" y="775.39" font-size="36" text-anchor="end">1.0</text>
<line x1="1137.5" y1="887.2" x2="1147.8" y2="887.2" stroke="#000" stroke-width="4"/>
<text x="1130.5" y="897.29" font-size="36" text-anchor="end">0.5</text>
<line x1="1137.5" y1="1009.4" x2="1147.8" y2="1009.4" stroke="#000" stroke-width="4"/>
<text x="1130.5" y="1019.49" font-size="36" text-anchor="end">0.0</text>
<line x1="1171.8" y1="1009.4" x2="1171.8" y2="1020.9" stroke="#000" stroke-width="3.5"/>
<line x1="1220.2" y1="1009.4" x2="1220.2" y2="1020.9" stroke="#000" stroke-width="3.5"/>
<line x1="1269.2" y1="1009.4" x2="1269.2" y2="1020.9" stroke="#000" stroke-width="3.5"/>
<text x="1068.7" y="823.2" font-size="36" text-anchor="middle" transform="rotate(-90 1068.7 823.2)" textLength="127" lengthAdjust="spacing">AUC (h)</text>
<line x1="1171.7" y1="717" x2="1171.7" y2="723.5" stroke="#000" stroke-width="4.4"/>
<line x1="1162.7" y1="717" x2="1180.7" y2="717" stroke="#000" stroke-width="4.4"/>
<line x1="1220.3" y1="715.5" x2="1220.3" y2="723" stroke="#ff0000" stroke-width="4.4"/>
<line x1="1211.3" y1="715.5" x2="1229.3" y2="715.5" stroke="#ff0000" stroke-width="4.4"/>
<line x1="1269" y1="717" x2="1269" y2="723" stroke="#0000ff" stroke-width="4.4"/>
<line x1="1260" y1="717" x2="1278" y2="717" stroke="#0000ff" stroke-width="4.4"/>
<circle cx="1163.8" cy="697.5" r="5.35" fill="none" stroke="#000" stroke-width="3.7"/>
<circle cx="1180" cy="705" r="5.35" fill="none" stroke="#000" stroke-width="3.7"/>
<circle cx="1171.5" cy="709.5" r="5.35" fill="none" stroke="#000" stroke-width="3.7"/>
<circle cx="1163.5" cy="717" r="5.35" fill="none" stroke="#000" stroke-width="3.7"/>
<circle cx="1179" cy="721" r="5.35" fill="none" stroke="#000" stroke-width="3.7"/>
<circle cx="1164" cy="729" r="5.35" fill="none" stroke="#000" stroke-width="3.7"/>
<circle cx="1169" cy="732" r="5.35" fill="none" stroke="#000" stroke-width="3.7"/>
<circle cx="1175" cy="733" r="5.35" fill="none" stroke="#000" stroke-width="3.7"/>
<circle cx="1180" cy="729" r="5.35" fill="none" stroke="#000" stroke-width="3.7"/>
<circle cx="1171.7" cy="753.3" r="5.35" fill="none" stroke="#000" stroke-width="3.7"/>
<circle cx="1212.5" cy="696.5" r="5.35" fill="none" stroke="#ff0000" stroke-width="3.7"/>
<circle cx="1228.5" cy="699.2" r="5.35" fill="none" stroke="#ff0000" stroke-width="3.7"/>
<circle cx="1220.2" cy="704.5" r="5.35" fill="none" stroke="#ff0000" stroke-width="3.7"/>
<circle cx="1212.5" cy="720" r="5.35" fill="none" stroke="#ff0000" stroke-width="3.7"/>
<circle cx="1228.5" cy="719.5" r="5.35" fill="none" stroke="#ff0000" stroke-width="3.7"/>
<circle cx="1220.2" cy="723" r="5.35" fill="none" stroke="#ff0000" stroke-width="3.7"/>
<circle cx="1212.2" cy="741.8" r="5.35" fill="none" stroke="#ff0000" stroke-width="3.7"/>
<circle cx="1220.5" cy="748" r="5.35" fill="none" stroke="#ff0000" stroke-width="3.7"/>
<circle cx="1228.5" cy="747.2" r="5.35" fill="none" stroke="#ff0000" stroke-width="3.7"/>
<circle cx="1220.2" cy="718" r="5.35" fill="none" stroke="#ff0000" stroke-width="3.7"/>
<circle cx="1269" cy="684.5" r="5.35" fill="none" stroke="#0000ff" stroke-width="3.7"/>
<circle cx="1269" cy="702" r="5.35" fill="none" stroke="#0000ff" stroke-width="3.7"/>
<circle cx="1262" cy="724" r="5.35" fill="none" stroke="#0000ff" stroke-width="3.7"/>
<circle cx="1276" cy="724" r="5.35" fill="none" stroke="#0000ff" stroke-width="3.7"/>
<circle cx="1269" cy="722" r="5.35" fill="none" stroke="#0000ff" stroke-width="3.7"/>
<circle cx="1265" cy="730" r="5.35" fill="none" stroke="#0000ff" stroke-width="3.7"/>
<circle cx="1273" cy="730" r="5.35" fill="none" stroke="#0000ff" stroke-width="3.7"/>
<circle cx="1269" cy="734" r="5.35" fill="none" stroke="#0000ff" stroke-width="3.7"/>
<circle cx="1269" cy="740" r="5.35" fill="none" stroke="#0000ff" stroke-width="3.7"/>
<circle cx="1266" cy="736" r="5.35" fill="none" stroke="#0000ff" stroke-width="3.7"/>
<text x="1191" y="1042.8" font-size="36" text-anchor="end" transform="rotate(-45 1191 1042.8)">WT</text>
<text x="1242.2" y="1036.4" font-size="36" text-anchor="end" transform="rotate(-45 1242.2 1036.4)">KO</text>
<text x="1293.3" y="1038.8" font-size="36" text-anchor="end" transform="rotate(-45 1293.3 1038.8)">KO+E2</text>
<line x1="1438.2" y1="641.5" x2="1438.2" y2="1012.3" stroke="#000" stroke-width="3.5"/>
<line x1="1427.8" y1="1010.3" x2="1586.6" y2="1010.3" stroke="#000" stroke-width="4"/>
<line x1="1427.8" y1="643.5" x2="1438.2" y2="643.5" stroke="#000" stroke-width="4"/>
<text x="1425.8" y="651.99" font-size="36" text-anchor="end">1.5</text>
<line x1="1427.8" y1="766" x2="1438.2" y2="766" stroke="#000" stroke-width="4"/>
<text x="1425.8" y="774.49" font-size="36" text-anchor="end">1.0</text>
<line x1="1427.8" y1="887.8" x2="1438.2" y2="887.8" stroke="#000" stroke-width="4"/>
<text x="1425.8" y="896.29" font-size="36" text-anchor="end">0.5</text>
<line x1="1427.8" y1="1010.3" x2="1438.2" y2="1010.3" stroke="#000" stroke-width="4"/>
<text x="1425.8" y="1019.59" font-size="36" text-anchor="end">0.0</text>
<line x1="1474.1" y1="1010.3" x2="1474.1" y2="1021.8" stroke="#000" stroke-width="3.5"/>
<line x1="1547.8" y1="1010.3" x2="1547.8" y2="1021.8" stroke="#000" stroke-width="3.5"/>
<text x="1361.9" y="820.7" font-size="36" text-anchor="middle" transform="rotate(-90 1361.9 820.7)" textLength="334" lengthAdjust="spacing">Serum insulin (ng/ml)</text>
<text x="1472.6" y="1050.7" font-size="36" text-anchor="middle">0</text>
<text x="1548" y="1050.7" font-size="36" text-anchor="middle">30</text>
<text x="1519.8" y="1083.9" font-size="36" text-anchor="middle" textLength="167.5" lengthAdjust="spacing">Time (min)</text>
<line x1="1474.1" y1="904" x2="1474.1" y2="914" stroke="#0000ff" stroke-width="4.23"/>
<line x1="1466.6" y1="904" x2="1481.6" y2="904" stroke="#0000ff" stroke-width="4.6"/>
<line x1="1466.6" y1="914" x2="1481.6" y2="914" stroke="#0000ff" stroke-width="4.6"/>
<line x1="1547.8" y1="806.5" x2="1547.8" y2="826" stroke="#0000ff" stroke-width="4.23"/>
<line x1="1540.3" y1="806.5" x2="1555.3" y2="806.5" stroke="#0000ff" stroke-width="4.6"/>
<line x1="1540.3" y1="826" x2="1555.3" y2="826" stroke="#0000ff" stroke-width="4.6"/>
<polyline points="1474.1,909.4 1547.8,816.4" fill="none" stroke="#0000ff" stroke-width="4.3" stroke-linejoin="round"/>
<circle cx="1474.1" cy="909.4" r="7.4" fill="#0000ff"/>
<circle cx="1547.8" cy="816.4" r="7.4" fill="#0000ff"/>
<line x1="1474.1" y1="901" x2="1474.1" y2="911" stroke="#ff0000" stroke-width="4.23"/>
<line x1="1466.6" y1="901" x2="1481.6" y2="901" stroke="#ff0000" stroke-width="4.6"/>
<line x1="1466.6" y1="911" x2="1481.6" y2="911" stroke="#ff0000" stroke-width="4.6"/>
<line x1="1547.8" y1="827" x2="1547.8" y2="840.2" stroke="#ff0000" stroke-width="4.23"/>
<line x1="1540.3" y1="827" x2="1555.3" y2="827" stroke="#ff0000" stroke-width="4.6"/>
<line x1="1540.3" y1="840.2" x2="1555.3" y2="840.2" stroke="#ff0000" stroke-width="4.6"/>
<polyline points="1474.1,906 1547.8,833.7" fill="none" stroke="#ff0000" stroke-width="4.3" stroke-linejoin="round"/>
<circle cx="1474.1" cy="906" r="7.4" fill="#ff0000"/>
<circle cx="1547.8" cy="833.7" r="7.4" fill="#ff0000"/>
<line x1="1474.1" y1="898" x2="1474.1" y2="908" stroke="#000" stroke-width="4.23"/>
<line x1="1466.6" y1="898" x2="1481.6" y2="898" stroke="#000" stroke-width="4.6"/>
<line x1="1466.6" y1="908" x2="1481.6" y2="908" stroke="#000" stroke-width="4.6"/>
<line x1="1547.8" y1="670.9" x2="1547.8" y2="692.8" stroke="#000" stroke-width="4.23"/>
<line x1="1540.3" y1="670.9" x2="1555.3" y2="670.9" stroke="#000" stroke-width="4.6"/>
<line x1="1540.3" y1="692.8" x2="1555.3" y2="692.8" stroke="#000" stroke-width="4.6"/>
<polyline points="1474.1,902.8 1547.8,681.6" fill="none" stroke="#000" stroke-width="4.3" stroke-linejoin="round"/>
<circle cx="1474.1" cy="902.8" r="7.4" fill="#000"/>
<circle cx="1547.8" cy="681.6" r="7.4" fill="#000"/>
<line x1="1574.1" y1="641.5" x2="1613.7" y2="641.5" stroke="#000" stroke-width="4.3"/>
<circle cx="1593.9" cy="641.5" r="7.6" fill="#000"/>
<text x="1621.8" y="651.6" font-size="35.5">WT</text>
<line x1="1574.1" y1="667.8" x2="1613.7" y2="667.8" stroke="#ff0000" stroke-width="4.3"/>
<circle cx="1593.9" cy="667.8" r="7.6" fill="#ff0000"/>
<text x="1621.8" y="677.9" font-size="35.5">KO</text>
<line x1="1574.1" y1="699.9" x2="1613.7" y2="699.9" stroke="#0000ff" stroke-width="4.3"/>
<circle cx="1593.9" cy="699.9" r="7.6" fill="#0000ff"/>
<text x="1621.8" y="710" font-size="35.5">KO+E2</text>
<text x="1582.7" y="822.62" font-size="39.5" text-anchor="middle" stroke="#000" stroke-width="0.5" letter-spacing="0.3">**</text>
<text x="1582.7" y="856.32" font-size="39.5" text-anchor="middle" stroke="#000" stroke-width="0.5" letter-spacing="0.3">**</text>
<line x1="1845.4" y1="640.7" x2="1845.4" y2="1011.6" stroke="#000" stroke-width="3.5"/>
<line x1="1834.8" y1="1009.6" x2="1993.4" y2="1009.6" stroke="#000" stroke-width="4"/>
<line x1="1834.8" y1="642.7" x2="1845.4" y2="642.7" stroke="#000" stroke-width="4"/>
<text x="1831.9" y="652.39" font-size="36" text-anchor="end">4</text>
<line x1="1834.8" y1="735.1" x2="1845.4" y2="735.1" stroke="#000" stroke-width="4"/>
<text x="1831.9" y="744.79" font-size="36" text-anchor="end">3</text>
<line x1="1834.8" y1="826.8" x2="1845.4" y2="826.8" stroke="#000" stroke-width="4"/>
<text x="1831.9" y="836.49" font-size="36" text-anchor="end">2</text>
<line x1="1834.8" y1="918.2" x2="1845.4" y2="918.2" stroke="#000" stroke-width="4"/>
<text x="1831.9" y="927.89" font-size="36" text-anchor="end">1</text>
<line x1="1834.8" y1="1009.6" x2="1845.4" y2="1009.6" stroke="#000" stroke-width="4"/>
<text x="1831.9" y="1019.49" font-size="36" text-anchor="end">0</text>
<line x1="1868.8" y1="1009.6" x2="1868.8" y2="1021.1" stroke="#000" stroke-width="3.5"/>
<line x1="1917.9" y1="1009.6" x2="1917.9" y2="1021.1" stroke="#000" stroke-width="3.5"/>
<line x1="1966.5" y1="1009.6" x2="1966.5" y2="1021.1" stroke="#000" stroke-width="3.5"/>
<text x="1770.1" y="823.2" font-size="36" text-anchor="middle" transform="rotate(-90 1770.1 823.2)" textLength="300.8" lengthAdjust="spacing">Fold insulin release</text>
<text x="1805.1" y="825" font-size="36" text-anchor="middle" transform="rotate(-90 1805.1 825)" textLength="222.5" lengthAdjust="spacing">30 min in GTT</text>
<line x1="1869.2" y1="720" x2="1869.2" y2="728" stroke="#000" stroke-width="4.4"/>
<line x1="1860.2" y1="720" x2="1878.2" y2="720" stroke="#000" stroke-width="4.4"/>
<line x1="1917.8" y1="845" x2="1917.8" y2="853" stroke="#ff0000" stroke-width="4.4"/>
<line x1="1908.8" y1="845" x2="1926.8" y2="845" stroke="#ff0000" stroke-width="4.4"/>
<line x1="1966.7" y1="830" x2="1966.7" y2="836.5" stroke="#0000ff" stroke-width="4.4"/>
<line x1="1957.7" y1="830" x2="1975.7" y2="830" stroke="#0000ff" stroke-width="4.4"/>
<circle cx="1869.2" cy="679.2" r="5.35" fill="none" stroke="#000" stroke-width="3.7"/>
<circle cx="1861.2" cy="708.2" r="5.35" fill="none" stroke="#000" stroke-width="3.7"/>
<circle cx="1877.2" cy="711.5" r="5.35" fill="none" stroke="#000" stroke-width="3.7"/>
<circle cx="1869" cy="719" r="5.35" fill="none" stroke="#000" stroke-width="3.7"/>
<circle cx="1877" cy="721.5" r="5.35" fill="none" stroke="#000" stroke-width="3.7"/>
<circle cx="1861" cy="726" r="5.35" fill="none" stroke="#000" stroke-width="3.7"/>
<circle cx="1869.2" cy="735" r="5.35" fill="none" stroke="#000" stroke-width="3.7"/>
<circle cx="1861.2" cy="752.5" r="5.35" fill="none" stroke="#000" stroke-width="3.7"/>
<circle cx="1877.2" cy="756.5" r="5.35" fill="none" stroke="#000" stroke-width="3.7"/>
<circle cx="1869.2" cy="764.5" r="5.35" fill="none" stroke="#000" stroke-width="3.7"/>
<circle cx="1909.7" cy="817" r="5.35" fill="none" stroke="#ff0000" stroke-width="3.7"/>
<circle cx="1925.8" cy="819.5" r="5.35" fill="none" stroke="#ff0000" stroke-width="3.7"/>
<circle cx="1917.8" cy="843.5" r="5.35" fill="none" stroke="#ff0000" stroke-width="3.7"/>
<circle cx="1909.7" cy="849.5" r="5.35" fill="none" stroke="#ff0000" stroke-width="3.7"/>
<circle cx="1926" cy="848" r="5.35" fill="none" stroke="#ff0000" stroke-width="3.7"/>
<circle cx="1917.8" cy="863.5" r="5.35" fill="none" stroke="#ff0000" stroke-width="3.7"/>
<circle cx="1909.7" cy="867.5" r="5.35" fill="none" stroke="#ff0000" stroke-width="3.7"/>
<circle cx="1925.8" cy="879.5" r="5.35" fill="none" stroke="#ff0000" stroke-width="3.7"/>
<circle cx="1917.8" cy="884.5" r="5.35" fill="none" stroke="#ff0000" stroke-width="3.7"/>
<circle cx="1974.7" cy="813.7" r="5.35" fill="none" stroke="#0000ff" stroke-width="3.7"/>
<circle cx="1958.5" cy="818" r="5.35" fill="none" stroke="#0000ff" stroke-width="3.7"/>
<circle cx="1958.5" cy="827.5" r="5.35" fill="none" stroke="#0000ff" stroke-width="3.7"/>
<circle cx="1975" cy="829" r="5.35" fill="none" stroke="#0000ff" stroke-width="3.7"/>
<circle cx="1967" cy="834" r="5.35" fill="none" stroke="#0000ff" stroke-width="3.7"/>
<circle cx="1958.5" cy="849.5" r="5.35" fill="none" stroke="#0000ff" stroke-width="3.7"/>
<circle cx="1962.5" cy="855.5" r="5.35" fill="none" stroke="#0000ff" stroke-width="3.7"/>
<circle cx="1970" cy="850" r="5.35" fill="none" stroke="#0000ff" stroke-width="3.7"/>
<circle cx="1973" cy="846" r="5.35" fill="none" stroke="#0000ff" stroke-width="3.7"/>
<circle cx="1966" cy="840" r="5.35" fill="none" stroke="#0000ff" stroke-width="3.7"/>
<text x="1889.2" y="1042.6" font-size="36" text-anchor="end" transform="rotate(-45 1889.2 1042.6)">WT</text>
<text x="1940.9" y="1036.4" font-size="36" text-anchor="end" transform="rotate(-45 1940.9 1036.4)">KO</text>
<text x="1991.9" y="1038.8" font-size="36" text-anchor="end" transform="rotate(-45 1991.9 1038.8)">KO+E2</text>
<text x="1921.7" y="797.42" font-size="39.5" text-anchor="middle" stroke="#000" stroke-width="0.5" letter-spacing="0.3">**</text>
<text x="1968.2" y="797.42" font-size="39.5" text-anchor="middle" stroke="#000" stroke-width="0.5" letter-spacing="0.3">**</text>
<line x1="102.4" y1="1237.6" x2="102.4" y2="1608.3" stroke="#000" stroke-width="3.5"/>
<line x1="91.6" y1="1606.3" x2="360.4" y2="1606.3" stroke="#000" stroke-width="4"/>
<line x1="91.6" y1="1239.6" x2="102.4" y2="1239.6" stroke="#000" stroke-width="4"/>
<text x="87.3" y="1248.69" font-size="36" text-anchor="end">20</text>
<line x1="91.6" y1="1331.3" x2="102.4" y2="1331.3" stroke="#000" stroke-width="4"/>
<text x="87.3" y="1340.39" font-size="36" text-anchor="end">15</text>
<line x1="91.6" y1="1422.5" x2="102.4" y2="1422.5" stroke="#000" stroke-width="4"/>
<text x="87.3" y="1431.59" font-size="36" text-anchor="end">10</text>
<line x1="91.6" y1="1513.9" x2="102.4" y2="1513.9" stroke="#000" stroke-width="4"/>
<text x="87.3" y="1522.99" font-size="36" text-anchor="end">5</text>
<line x1="91.6" y1="1606.3" x2="102.4" y2="1606.3" stroke="#000" stroke-width="4"/>
<text x="87.3" y="1615.39" font-size="36" text-anchor="end">0</text>
<line x1="134" y1="1606.3" x2="134" y2="1617.8" stroke="#000" stroke-width="3.5"/>
<line x1="198" y1="1606.3" x2="198" y2="1617.8" stroke="#000" stroke-width="3.5"/>
<line x1="262.6" y1="1606.3" x2="262.6" y2="1617.8" stroke="#000" stroke-width="3.5"/>
<line x1="326.4" y1="1606.3" x2="326.4" y2="1617.8" stroke="#000" stroke-width="3.5"/>
<text x="36.4" y="1413.2" font-size="36" text-anchor="middle" transform="rotate(-90 36.4 1413.2)" textLength="375.3" lengthAdjust="spacing">Blood glucose (mmol/L)</text>
<text x="133.6" y="1651.2" font-size="36" text-anchor="middle">0</text>
<text x="200.5" y="1651.2" font-size="36" text-anchor="middle">30</text>
<text x="261.5" y="1651.2" font-size="36" text-anchor="middle">60</text>
<text x="325.5" y="1651.2" font-size="36" text-anchor="middle">120</text>
<text x="228.2" y="1685" font-size="36" text-anchor="middle" textLength="162.5" lengthAdjust="spacing">Time (min)</text>
<line x1="198" y1="1263" x2="198" y2="1308" stroke="#f7178c" stroke-width="4.23"/>
<line x1="190.5" y1="1263" x2="205.5" y2="1263" stroke="#f7178c" stroke-width="4.6"/>
<line x1="190.5" y1="1308" x2="205.5" y2="1308" stroke="#f7178c" stroke-width="4.6"/>
<line x1="262.6" y1="1392.6" x2="262.6" y2="1431" stroke="#f7178c" stroke-width="4.23"/>
<line x1="255.1" y1="1392.6" x2="270.1" y2="1392.6" stroke="#f7178c" stroke-width="4.6"/>
<line x1="255.1" y1="1431" x2="270.1" y2="1431" stroke="#f7178c" stroke-width="4.6"/>
<polyline points="134,1530.6 198,1285.4 262.6,1412 326.4,1487.4" fill="none" stroke="#f7178c" stroke-width="4.3" stroke-linejoin="round"/>
<circle cx="134" cy="1530.6" r="7.4" fill="#f7178c"/>
<circle cx="198" cy="1285.4" r="7.4" fill="#f7178c"/>
<circle cx="262.6" cy="1412" r="7.4" fill="#f7178c"/>
<circle cx="326.4" cy="1487.4" r="7.4" fill="#f7178c"/>
<line x1="198" y1="1361.6" x2="198" y2="1394.4" stroke="#000" stroke-width="4.23"/>
<line x1="190.5" y1="1361.6" x2="205.5" y2="1361.6" stroke="#000" stroke-width="4.6"/>
<line x1="190.5" y1="1394.4" x2="205.5" y2="1394.4" stroke="#000" stroke-width="4.6"/>
<line x1="262.6" y1="1454" x2="262.6" y2="1472.4" stroke="#000" stroke-width="4.23"/>
<line x1="255.1" y1="1454" x2="270.1" y2="1454" stroke="#000" stroke-width="4.6"/>
<line x1="255.1" y1="1472.4" x2="270.1" y2="1472.4" stroke="#000" stroke-width="4.6"/>
<polyline points="134,1535 198,1378 262.6,1463 326.4,1503" fill="none" stroke="#000" stroke-width="4.3" stroke-linejoin="round"/>
<circle cx="134" cy="1535" r="7.4" fill="#000"/>
<circle cx="198" cy="1378" r="7.4" fill="#000"/>
<circle cx="262.6" cy="1463" r="7.4" fill="#000"/>
<circle cx="326.4" cy="1503" r="7.4" fill="#000"/>
<line x1="236" y1="1245.4" x2="275.6" y2="1245.4" stroke="#000" stroke-width="4.3"/>
<circle cx="255.8" cy="1245.4" r="7.6" fill="#000"/>
<text x="283.6" y="1255.5" font-size="35.5">Ctrl</text>
<line x1="236" y1="1279.4" x2="275.6" y2="1279.4" stroke="#f7178c" stroke-width="4.3"/>
<circle cx="255.8" cy="1279.4" r="7.6" fill="#f7178c"/>
<text x="283.6" y="1289.5" font-size="35.5">CKO</text>
<text x="199.4" y="1264.42" font-size="39.5" text-anchor="middle" stroke="#000" stroke-width="0.5" letter-spacing="0.3">**</text>
<text x="264" y="1389.62" font-size="39.5" text-anchor="middle" stroke="#000" stroke-width="0.5" letter-spacing="0.3">*</text>
<text x="326.4" y="1472.22" font-size="39.5" text-anchor="middle" stroke="#000" stroke-width="0.5" letter-spacing="0.3">**</text>
<line x1="466.7" y1="1235.6" x2="466.7" y2="1605.8" stroke="#000" stroke-width="3.5"/>
<line x1="456.6" y1="1603.8" x2="614" y2="1603.8" stroke="#000" stroke-width="4"/>
<line x1="456.6" y1="1237.6" x2="466.7" y2="1237.6" stroke="#000" stroke-width="4"/>
<text x="450.9" y="1247.69" font-size="36" text-anchor="end">30</text>
<line x1="456.6" y1="1360.1" x2="466.7" y2="1360.1" stroke="#000" stroke-width="4"/>
<text x="450.9" y="1370.19" font-size="36" text-anchor="end">20</text>
<line x1="456.6" y1="1482" x2="466.7" y2="1482" stroke="#000" stroke-width="4"/>
<text x="450.9" y="1492.09" font-size="36" text-anchor="end">10</text>
<line x1="456.6" y1="1603.8" x2="466.7" y2="1603.8" stroke="#000" stroke-width="4"/>
<text x="450.9" y="1613.89" font-size="36" text-anchor="end">0</text>
<line x1="502.4" y1="1603.8" x2="502.4" y2="1615.3" stroke="#000" stroke-width="3.5"/>
<line x1="575.9" y1="1603.8" x2="575.9" y2="1615.3" stroke="#000" stroke-width="3.5"/>
<text x="401.3" y="1425.4" font-size="36" text-anchor="middle" transform="rotate(-90 401.3 1425.4)" textLength="253" lengthAdjust="spacing">AUC [mmol/L*h]</text>
<line x1="502.9" y1="1400.4" x2="502.9" y2="1410" stroke="#000" stroke-width="4.4"/>
<line x1="489.9" y1="1400.4" x2="515.9" y2="1400.4" stroke="#000" stroke-width="4.4"/>
<line x1="575.7" y1="1331.5" x2="575.7" y2="1347.5" stroke="#f7178c" stroke-width="4.4"/>
<line x1="563.2" y1="1331.5" x2="588.2" y2="1331.5" stroke="#f7178c" stroke-width="4.4"/>
<circle cx="494.5" cy="1362.7" r="5.35" fill="none" stroke="#000" stroke-width="3.7"/>
<circle cx="510.9" cy="1368.1" r="5.35" fill="none" stroke="#000" stroke-width="3.7"/>
<circle cx="494.5" cy="1406.9" r="5.35" fill="none" stroke="#000" stroke-width="3.7"/>
<circle cx="510.9" cy="1405" r="5.35" fill="none" stroke="#000" stroke-width="3.7"/>
<circle cx="518.7" cy="1414" r="5.35" fill="none" stroke="#000" stroke-width="3.7"/>
<circle cx="486" cy="1423.5" r="5.35" fill="none" stroke="#000" stroke-width="3.7"/>
<circle cx="502.6" cy="1425.7" r="5.35" fill="none" stroke="#000" stroke-width="3.7"/>
<circle cx="510.9" cy="1439.6" r="5.35" fill="none" stroke="#000" stroke-width="3.7"/>
<circle cx="494.2" cy="1444.4" r="5.35" fill="none" stroke="#000" stroke-width="3.7"/>
<circle cx="575.7" cy="1275.2" r="5.35" fill="none" stroke="#f7178c" stroke-width="3.7"/>
<circle cx="584.1" cy="1302.5" r="5.35" fill="none" stroke="#f7178c" stroke-width="3.7"/>
<circle cx="567.3" cy="1311.8" r="5.35" fill="none" stroke="#f7178c" stroke-width="3.7"/>
<circle cx="557.2" cy="1361.6" r="5.35" fill="none" stroke="#f7178c" stroke-width="3.7"/>
<circle cx="594.1" cy="1363.6" r="5.35" fill="none" stroke="#f7178c" stroke-width="3.7"/>
<circle cx="569.5" cy="1372" r="5.35" fill="none" stroke="#f7178c" stroke-width="3.7"/>
<circle cx="582.1" cy="1377.4" r="5.35" fill="none" stroke="#f7178c" stroke-width="3.7"/>
<circle cx="575.6" cy="1417.9" r="5.35" fill="none" stroke="#f7178c" stroke-width="3.7"/>
<text x="517.5" y="1637.1" font-size="36" text-anchor="end" transform="rotate(-45 517.5 1637.1)">Ctrl</text>
<text x="592.6" y="1631.7" font-size="36" text-anchor="end" transform="rotate(-45 592.6 1631.7)">CKO</text>
<text x="576.6" y="1267.32" font-size="39.5" text-anchor="middle" stroke="#000" stroke-width="0.5" letter-spacing="0.3">**</text>
<line x1="766.9" y1="1235.8" x2="766.9" y2="1606.6" stroke="#000" stroke-width="3.5"/>
<line x1="756.4" y1="1604.6" x2="1025.5" y2="1604.6" stroke="#000" stroke-width="4"/>
<line x1="756.4" y1="1237.8" x2="766.9" y2="1237.8" stroke="#000" stroke-width="4"/>
<text x="752.1" y="1246.99" font-size="36" text-anchor="end">1.5</text>
<line x1="756.4" y1="1360.4" x2="766.9" y2="1360.4" stroke="#000" stroke-width="4"/>
<text x="752.1" y="1369.59" font-size="36" text-anchor="end">1.0</text>
<line x1="756.4" y1="1482.1" x2="766.9" y2="1482.1" stroke="#000" stroke-width="4"/>
<text x="752.1" y="1491.29" font-size="36" text-anchor="end">0.5</text>
<line x1="756.4" y1="1604.6" x2="766.9" y2="1604.6" stroke="#000" stroke-width="4"/>
<text x="752.1" y="1613.79" font-size="36" text-anchor="end">0</text>
<line x1="792.6" y1="1604.6" x2="792.6" y2="1616.1" stroke="#000" stroke-width="3.5"/>
<line x1="844" y1="1604.6" x2="844" y2="1616.1" stroke="#000" stroke-width="3.5"/>
<line x1="895.6" y1="1604.6" x2="895.6" y2="1616.1" stroke="#000" stroke-width="3.5"/>
<line x1="946.6" y1="1604.6" x2="946.6" y2="1616.1" stroke="#000" stroke-width="3.5"/>
<line x1="998" y1="1604.6" x2="998" y2="1616.1" stroke="#000" stroke-width="3.5"/>
<text x="690.1" y="1413.2" font-size="36" text-anchor="middle" transform="rotate(-90 690.1 1413.2)" textLength="373" lengthAdjust="spacing">Blood glucose (of initial)</text>
<text x="793.2" y="1648.1" font-size="36" text-anchor="middle">0</text>
<text x="841.1" y="1648.1" font-size="36" text-anchor="middle">30</text>
<text x="896.4" y="1648.1" font-size="36" text-anchor="middle">60</text>
<text x="946.7" y="1648.1" font-size="36" text-anchor="middle">90</text>
<text x="1002.5" y="1648.1" font-size="36" text-anchor="middle">120</text>
<text x="899.8" y="1688.3" font-size="36" text-anchor="middle" textLength="162.5" lengthAdjust="spacing">Time (min)</text>
<line x1="998" y1="1456" x2="998" y2="1474" stroke="#f7178c" stroke-width="4.23"/>
<line x1="990.5" y1="1456" x2="1005.5" y2="1456" stroke="#f7178c" stroke-width="4.6"/>
<line x1="990.5" y1="1474" x2="1005.5" y2="1474" stroke="#f7178c" stroke-width="4.6"/>
<polyline points="792.6,1360 844,1479 895.6,1480.4 946.6,1485 998,1465" fill="none" stroke="#f7178c" stroke-width="4.3" stroke-linejoin="round"/>
<circle cx="792.6" cy="1360" r="7.4" fill="#f7178c"/>
<circle cx="844" cy="1479" r="7.4" fill="#f7178c"/>
<circle cx="895.6" cy="1480.4" r="7.4" fill="#f7178c"/>
<circle cx="946.6" cy="1485" r="7.4" fill="#f7178c"/>
<circle cx="998" cy="1465" r="7.4" fill="#f7178c"/>
<polyline points="792.6,1360 844,1478 895.6,1489 946.6,1486.4 998,1468.6" fill="none" stroke="#000" stroke-width="4.3" stroke-linejoin="round"/>
<circle cx="792.6" cy="1360" r="7.4" fill="#000"/>
<circle cx="844" cy="1478" r="7.4" fill="#000"/>
<circle cx="895.6" cy="1489" r="7.4" fill="#000"/>
<circle cx="946.6" cy="1486.4" r="7.4" fill="#000"/>
<circle cx="998" cy="1468.6" r="7.4" fill="#000"/>
<line x1="914" y1="1244.4" x2="954" y2="1244.4" stroke="#000" stroke-width="4.3"/>
<circle cx="934" cy="1244.4" r="7.6" fill="#000"/>
<text x="962" y="1254.5" font-size="35.5">Ctrl</text>
<line x1="914" y1="1279" x2="954" y2="1279" stroke="#f7178c" stroke-width="4.3"/>
<circle cx="934" cy="1279" r="7.6" fill="#f7178c"/>
<text x="962" y="1289.1" font-size="35.5">CKO</text>
<line x1="1147.3" y1="1235.3" x2="1147.3" y2="1606" stroke="#000" stroke-width="3.5"/>
<line x1="1135.9" y1="1604" x2="1296.7" y2="1604" stroke="#000" stroke-width="4"/>
<line x1="1135.9" y1="1237.3" x2="1147.3" y2="1237.3" stroke="#000" stroke-width="4"/>
<text x="1132.6" y="1249.19" font-size="36" text-anchor="end">1.5</text>
<line x1="1135.9" y1="1360.2" x2="1147.3" y2="1360.2" stroke="#000" stroke-width="4"/>
<text x="1132.6" y="1372.09" font-size="36" text-anchor="end">1.0</text>
<line x1="1135.9" y1="1482" x2="1147.3" y2="1482" stroke="#000" stroke-width="4"/>
<text x="1132.6" y="1493.89" font-size="36" text-anchor="end">0.5</text>
<line x1="1135.9" y1="1604" x2="1147.3" y2="1604" stroke="#000" stroke-width="4"/>
<text x="1132.6" y="1615.89" font-size="36" text-anchor="end">0.0</text>
<line x1="1183.8" y1="1604" x2="1183.8" y2="1615.5" stroke="#000" stroke-width="3.5"/>
<line x1="1257.3" y1="1604" x2="1257.3" y2="1615.5" stroke="#000" stroke-width="3.5"/>
<text x="1067" y="1420.2" font-size="36" text-anchor="middle" transform="rotate(-90 1067 1420.2)" textLength="126.6" lengthAdjust="spacing">AUC (h)</text>
<line x1="1183.4" y1="1322" x2="1183.4" y2="1329.5" stroke="#000" stroke-width="4.4"/>
<line x1="1170.4" y1="1322" x2="1196.4" y2="1322" stroke="#000" stroke-width="4.4"/>
<line x1="1256.8" y1="1314.7" x2="1256.8" y2="1324" stroke="#f7178c" stroke-width="4.4"/>
<line x1="1242.8" y1="1314.7" x2="1270.8" y2="1314.7" stroke="#f7178c" stroke-width="4.4"/>
<circle cx="1183.4" cy="1303.4" r="5.35" fill="none" stroke="#000" stroke-width="3.7"/>
<circle cx="1164.7" cy="1319.8" r="5.35" fill="none" stroke="#000" stroke-width="3.7"/>
<circle cx="1202.1" cy="1321.4" r="5.35" fill="none" stroke="#000" stroke-width="3.7"/>
<circle cx="1177.5" cy="1326.3" r="5.35" fill="none" stroke="#000" stroke-width="3.7"/>
<circle cx="1189.4" cy="1326.8" r="5.35" fill="none" stroke="#000" stroke-width="3.7"/>
<circle cx="1164.7" cy="1336.5" r="5.35" fill="none" stroke="#000" stroke-width="3.7"/>
<circle cx="1202.1" cy="1334.4" r="5.35" fill="none" stroke="#000" stroke-width="3.7"/>
<circle cx="1189.8" cy="1346.7" r="5.35" fill="none" stroke="#000" stroke-width="3.7"/>
<circle cx="1177.2" cy="1350.5" r="5.35" fill="none" stroke="#000" stroke-width="3.7"/>
<circle cx="1256.5" cy="1299.7" r="5.35" fill="none" stroke="#f7178c" stroke-width="3.7"/>
<circle cx="1275.2" cy="1301.7" r="5.35" fill="none" stroke="#f7178c" stroke-width="3.7"/>
<circle cx="1238.1" cy="1308.6" r="5.35" fill="none" stroke="#f7178c" stroke-width="3.7"/>
<circle cx="1262.9" cy="1308.9" r="5.35" fill="none" stroke="#f7178c" stroke-width="3.7"/>
<circle cx="1249.3" cy="1318.2" r="5.35" fill="none" stroke="#f7178c" stroke-width="3.7"/>
<circle cx="1248.3" cy="1331" r="5.35" fill="none" stroke="#f7178c" stroke-width="3.7"/>
<circle cx="1264.9" cy="1345.4" r="5.35" fill="none" stroke="#f7178c" stroke-width="3.7"/>
<circle cx="1256.5" cy="1378.2" r="5.35" fill="none" stroke="#f7178c" stroke-width="3.7"/>
<text x="1201" y="1640.3" font-size="36" text-anchor="end" transform="rotate(-45 1201 1640.3)">Ctrl</text>
<text x="1276.2" y="1633.1" font-size="36" text-anchor="end" transform="rotate(-45 1276.2 1633.1)">CKO</text>
<line x1="1439" y1="1237.8" x2="1439" y2="1608.1" stroke="#000" stroke-width="3.5"/>
<line x1="1428.4" y1="1606.1" x2="1587.2" y2="1606.1" stroke="#000" stroke-width="4"/>
<line x1="1428.4" y1="1239.8" x2="1439" y2="1239.8" stroke="#000" stroke-width="4"/>
<text x="1426.3" y="1250.19" font-size="36" text-anchor="end">1.5</text>
<line x1="1428.4" y1="1361.8" x2="1439" y2="1361.8" stroke="#000" stroke-width="4"/>
<text x="1426.3" y="1372.19" font-size="36" text-anchor="end">1.0</text>
<line x1="1428.4" y1="1483.8" x2="1439" y2="1483.8" stroke="#000" stroke-width="4"/>
<text x="1426.3" y="1494.19" font-size="36" text-anchor="end">0.5</text>
<line x1="1428.4" y1="1606.1" x2="1439" y2="1606.1" stroke="#000" stroke-width="4"/>
<text x="1426.3" y="1616.49" font-size="36" text-anchor="end">0.0</text>
<line x1="1475.4" y1="1606.1" x2="1475.4" y2="1617.6" stroke="#000" stroke-width="3.5"/>
<line x1="1549" y1="1606.1" x2="1549" y2="1617.6" stroke="#000" stroke-width="3.5"/>
<text x="1367.2" y="1413.7" font-size="36" text-anchor="middle" transform="rotate(-90 1367.2 1413.7)" textLength="334" lengthAdjust="spacing">Serum insulin (ng/ml)</text>
<text x="1476" y="1648.4" font-size="36" text-anchor="middle">0</text>
<text x="1550.8" y="1648.4" font-size="36" text-anchor="middle">30</text>
<text x="1523.5" y="1681.3" font-size="36" text-anchor="middle" textLength="169" lengthAdjust="spacing">Time (min)</text>
<line x1="1549" y1="1399" x2="1549" y2="1418.4" stroke="#f7178c" stroke-width="4.23"/>
<line x1="1541.5" y1="1399" x2="1556.5" y2="1399" stroke="#f7178c" stroke-width="4.6"/>
<line x1="1541.5" y1="1418.4" x2="1556.5" y2="1418.4" stroke="#f7178c" stroke-width="4.6"/>
<polyline points="1475.4,1506 1549,1408.6" fill="none" stroke="#f7178c" stroke-width="4.3" stroke-linejoin="round"/>
<circle cx="1475.4" cy="1506" r="7.4" fill="#f7178c"/>
<circle cx="1549" cy="1408.6" r="7.4" fill="#f7178c"/>
<line x1="1549" y1="1264" x2="1549" y2="1290.4" stroke="#000" stroke-width="4.23"/>
<line x1="1541.5" y1="1264" x2="1556.5" y2="1264" stroke="#000" stroke-width="4.6"/>
<line x1="1541.5" y1="1290.4" x2="1556.5" y2="1290.4" stroke="#000" stroke-width="4.6"/>
<polyline points="1475.4,1498.6 1549,1277.6" fill="none" stroke="#000" stroke-width="4.3" stroke-linejoin="round"/>
<circle cx="1475.4" cy="1498.6" r="7.4" fill="#000"/>
<circle cx="1549" cy="1277.6" r="7.4" fill="#000"/>
<line x1="1580.4" y1="1244" x2="1620" y2="1244" stroke="#000" stroke-width="4.3"/>
<circle cx="1600.2" cy="1244" r="7.6" fill="#000"/>
<text x="1628.4" y="1254.1" font-size="35.5">Ctrl</text>
<line x1="1580.4" y1="1279" x2="1620" y2="1279" stroke="#f7178c" stroke-width="4.3"/>
<circle cx="1600.2" cy="1279" r="7.6" fill="#f7178c"/>
<text x="1628.4" y="1289.1" font-size="35.5">CKO</text>
<text x="1548.6" y="1394.62" font-size="39.5" text-anchor="middle" stroke="#000" stroke-width="0.5" letter-spacing="0.3">**</text>
<line x1="1846.4" y1="1235.4" x2="1846.4" y2="1605.8" stroke="#000" stroke-width="3.5"/>
<line x1="1836" y1="1603.8" x2="1994.6" y2="1603.8" stroke="#000" stroke-width="4"/>
<line x1="1836" y1="1237.4" x2="1846.4" y2="1237.4" stroke="#000" stroke-width="4"/>
<text x="1832.7" y="1247.69" font-size="36" text-anchor="end">4</text>
<line x1="1836" y1="1329.4" x2="1846.4" y2="1329.4" stroke="#000" stroke-width="4"/>
<text x="1832.7" y="1339.69" font-size="36" text-anchor="end">3</text>
<line x1="1836" y1="1421" x2="1846.4" y2="1421" stroke="#000" stroke-width="4"/>
<text x="1832.7" y="1431.29" font-size="36" text-anchor="end">2</text>
<line x1="1836" y1="1512.2" x2="1846.4" y2="1512.2" stroke="#000" stroke-width="4"/>
<text x="1832.7" y="1522.49" font-size="36" text-anchor="end">1</text>
<line x1="1836" y1="1603.8" x2="1846.4" y2="1603.8" stroke="#000" stroke-width="4"/>
<text x="1832.7" y="1614.09" font-size="36" text-anchor="end">0</text>
<line x1="1882.3" y1="1603.8" x2="1882.3" y2="1615.3" stroke="#000" stroke-width="3.5"/>
<line x1="1956" y1="1603.8" x2="1956" y2="1615.3" stroke="#000" stroke-width="3.5"/>
<text x="1770.2" y="1412.4" font-size="36" text-anchor="middle" transform="rotate(-90 1770.2 1412.4)" textLength="301.4" lengthAdjust="spacing">Fold insulin release</text>
<text x="1805.6" y="1417.6" font-size="36" text-anchor="middle" transform="rotate(-90 1805.6 1417.6)" textLength="220" lengthAdjust="spacing">30 min in GTT</text>
<line x1="1882.5" y1="1309" x2="1882.5" y2="1321" stroke="#000" stroke-width="4.4"/>
<line x1="1870.5" y1="1309" x2="1894.5" y2="1309" stroke="#000" stroke-width="4.4"/>
<line x1="1955.8" y1="1418" x2="1955.8" y2="1423" stroke="#f7178c" stroke-width="4.4"/>
<line x1="1943.8" y1="1418" x2="1967.8" y2="1418" stroke="#f7178c" stroke-width="4.4"/>
<circle cx="1882.4" cy="1263.9" r="5.35" fill="none" stroke="#000" stroke-width="3.7"/>
<circle cx="1882.4" cy="1285.3" r="5.35" fill="none" stroke="#000" stroke-width="3.7"/>
<circle cx="1890.8" cy="1292.8" r="5.35" fill="none" stroke="#000" stroke-width="3.7"/>
<circle cx="1874.2" cy="1303.8" r="5.35" fill="none" stroke="#000" stroke-width="3.7"/>
<circle cx="1874" cy="1324.1" r="5.35" fill="none" stroke="#000" stroke-width="3.7"/>
<circle cx="1890.8" cy="1335.7" r="5.35" fill="none" stroke="#000" stroke-width="3.7"/>
<circle cx="1866.2" cy="1357.5" r="5.35" fill="none" stroke="#000" stroke-width="3.7"/>
<circle cx="1882.4" cy="1364.9" r="5.35" fill="none" stroke="#000" stroke-width="3.7"/>
<circle cx="1898.6" cy="1362.3" r="5.35" fill="none" stroke="#000" stroke-width="3.7"/>
<circle cx="1937.4" cy="1406.9" r="5.35" fill="none" stroke="#f7178c" stroke-width="3.7"/>
<circle cx="1964.3" cy="1413.4" r="5.35" fill="none" stroke="#f7178c" stroke-width="3.7"/>
<circle cx="1949" cy="1421.8" r="5.35" fill="none" stroke="#f7178c" stroke-width="3.7"/>
<circle cx="1974.9" cy="1423.7" r="5.35" fill="none" stroke="#f7178c" stroke-width="3.7"/>
<circle cx="1936.7" cy="1428.9" r="5.35" fill="none" stroke="#f7178c" stroke-width="3.7"/>
<circle cx="1962" cy="1434.7" r="5.35" fill="none" stroke="#f7178c" stroke-width="3.7"/>
<circle cx="1949.3" cy="1439.9" r="5.35" fill="none" stroke="#f7178c" stroke-width="3.7"/>
<circle cx="1969.7" cy="1421.1" r="5.35" fill="none" stroke="#f7178c" stroke-width="3.7"/>
<text x="1898" y="1640.1" font-size="36" text-anchor="end" transform="rotate(-45 1898 1640.1)">Ctrl</text>
<text x="1973.1" y="1632.9" font-size="36" text-anchor="end" transform="rotate(-45 1973.1 1632.9)">CKO</text>
<text x="1954.5" y="1392.82" font-size="39.5" text-anchor="middle" stroke="#000" stroke-width="0.5" letter-spacing="0.3">**</text>
</svg>
</body></html>
